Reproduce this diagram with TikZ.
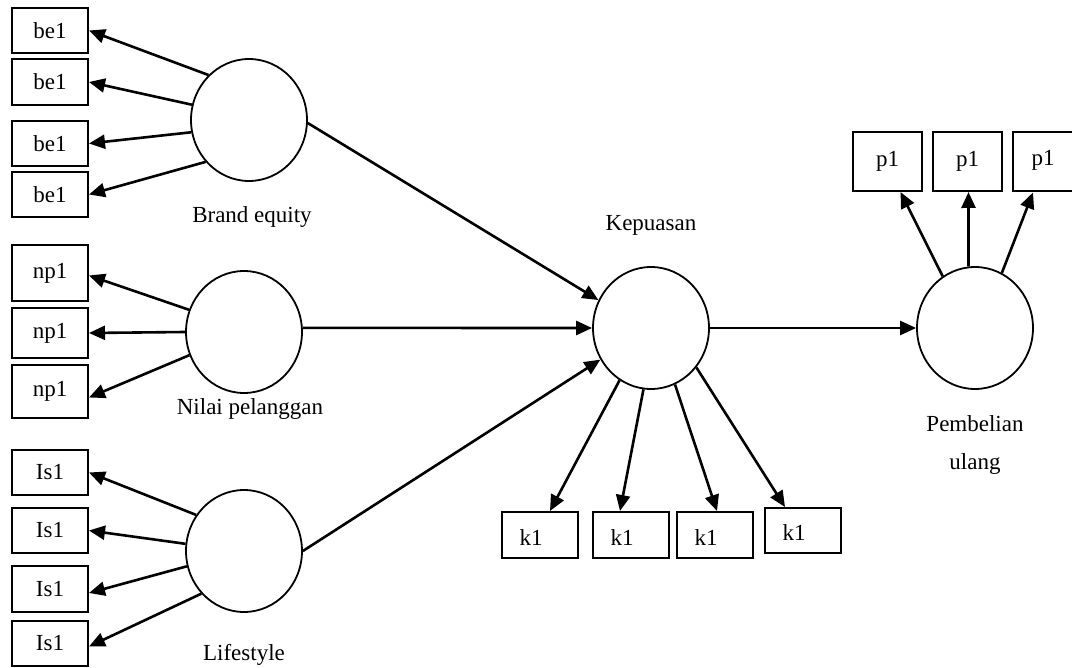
\documentclass[tikz,border=0pt]{standalone}
\usepackage{fontspec}
\setmainfont{Liberation Serif}
\usetikzlibrary{arrows.meta,shapes.geometric}
\tikzset{
  ind/.style={draw, line width=2pt, minimum width=76pt, minimum height=46pt, inner sep=0pt, font=\fontsize{23}{26}\selectfont},
  lat/.style={draw, ellipse, line width=1.8pt, minimum width=116pt, minimum height=122pt, inner sep=0pt},
  lbl/.style={anchor=base, font=\fontsize{23}{26}\selectfont, inner sep=0pt},
  arr/.style={line width=2.6pt, -{Triangle[length=16pt,width=14pt]}}
}
\begin{document}
\begin{tikzpicture}[x=1pt,y=-1pt]
\clip (0,0) rectangle (1072,668);
\useasboundingbox (0,0) rectangle (1072,668);
% latent variables
\node[lat] (be) at (249,120) {};
\node[lat] (np) at (244,332) {};
\node[lat] (ls) at (244,551) {};
\node[lat] (kp) at (651,328) {};
\node[lat] (pu) at (975,328) {};
% labels
\node[lbl] (tbe) at (252,223) {Brand equity};
\node[lbl] (tnp) at (250,415) {Nilai pelanggan};
\node[lbl] (tls) at (244,660) {Lifestyle};
\node[lbl] (tkp) at (651,231) {Kepuasan};
\node[lbl] (tpu1) at (975,432) {Pembelian};
\node[lbl] (tpu2) at (975,469) {ulang};
% brand equity indicators
\node[ind, minimum height=45pt] (b1) at (50,30.5) {be1};
\node[ind, minimum height=46pt] (b2) at (50,82) {be1};
\node[ind, minimum height=45pt] (b3) at (50,143.5) {be1};
\node[ind, minimum height=45pt] (b4) at (50,194.5) {be1};
% nilai pelanggan indicators
\node[ind, minimum height=56pt] (n1) at (50,273.5) {np1};
\node[ind, minimum height=50pt] (n2) at (50,333) {np1};
\node[ind, minimum height=53pt] (n3) at (50,391.5) {np1};
% lifestyle indicators
\node[ind, minimum height=45pt] (l1) at (50,472.5) {Is1};
\node[ind, minimum height=45pt] (l2) at (50,530.5) {Is1};
\node[ind, minimum height=46pt] (l3) at (50,589) {Is1};
\node[ind, minimum height=45pt] (l4) at (50,643.5) {Is1};
% kepuasan indicators
\node[ind] (k1) at (540,535) {};
\node[ind] (k2) at (631,535) {};
\node[ind] (k3) at (715,535) {};
\node[ind, minimum height=45pt] (k4) at (803,530.5) {};
\node[lbl] (k1t) at (531,545) {k1};
\node[lbl] (k2t) at (622,545) {k1};
\node[lbl] (k3t) at (706,545) {k1};
\node[lbl] (k4t) at (794,540) {k1};
% pembelian ulang indicators
\node[ind, minimum width=69pt, minimum height=59pt] (p1) at (887.5,161.5) {p1};
\node[ind, minimum width=69pt, minimum height=59pt] (p2) at (967.5,161.5) {p1};
\node[ind, minimum width=80pt, minimum height=59pt] (p3) at (1053,162) {};
\node[lbl] (p3t) at (1043,166) {p1};
% reflective arrows
\draw[arr] (be.132) -- (b1.east);
\draw[arr] (be.165) -- (b2.east);
\draw[arr] (be.192) -- (b3.east);
\draw[arr] (be.224) -- (b4.east);
\draw[arr] (np.158) -- ([yshift=-2pt]n1.east);
\draw[arr] (np.west) -- (n2.east);
\draw[arr] (np.203) -- ([yshift=-6pt]n3.east);
\draw[arr] (ls.143) -- (l1.east);
\draw[arr] (ls.173) -- (l2.east);
\draw[arr] (ls.195) -- ([yshift=-4pt]l3.east);
\draw[arr] (ls.225) -- ([yshift=-3pt]l4.east);
\draw[arr] (kp.239) -- ([xshift=10pt]k1.north);
\draw[arr] (kp.263) -- ([xshift=-11pt]k2.north);
\draw[arr] (kp.293) -- ([xshift=2pt]k3.north);
\draw[arr] (kp.319) -- ([xshift=-18pt]k4.north);
\draw[arr] (pu.122) -- ([xshift=13pt]p1.south);
\draw[arr] (pu.96) -- ([xshift=1pt]p2.south);
\draw[arr] (pu.64) -- ([xshift=-20pt]p3.south);
% structural paths
\draw[arr] (be.357) -- (kp.152);
\draw[arr] (np.4) -- (kp.west);
\draw[arr] (ls.east) -- (kp.212);
\draw[arr] (kp.east) -- (pu.west);
\end{tikzpicture}
\end{document}
